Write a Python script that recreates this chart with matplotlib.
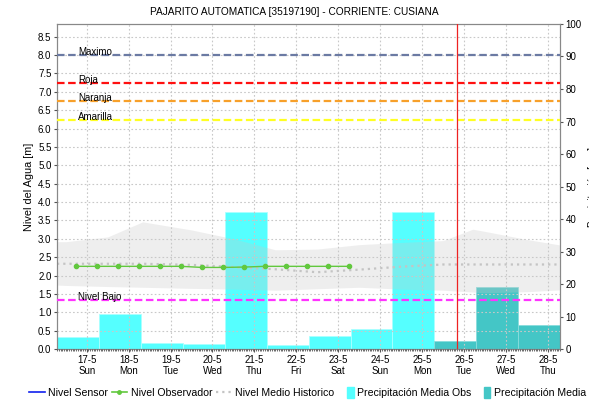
import matplotlib
matplotlib.use('Agg')
import matplotlib.pyplot as plt
import matplotlib.dates as mdates
from matplotlib.lines import Line2D
from matplotlib.patches import Patch, Rectangle
from matplotlib.legend_handler import HandlerPatch
import pandas as pd

plt.rcParams['font.family'] = ['Liberation Sans', 'DejaVu Sans']

titulo = 'PAJARITO AUTOMATICA [35197190] - CORRIENTE: CUSIANA'

# precipitacion diaria (mm), cada barra va de 07:00 a 07:00
dias_obs = pd.date_range('2020-05-16 07:00', '2020-05-24 07:00', freq='D')
precip_obs = [3.7, 10.7, 1.8, 1.5, 42.1, 1.2, 4.1, 6.2, 42.2]
dias_pron = pd.date_range('2020-05-25 07:00', '2020-05-27 07:00', freq='D')
precip_pron = [2.6, 19.1, 7.4]

# nivel observador, lecturas 06:00 y 18:00
horas_obs = pd.date_range('2020-05-16 18:00', '2020-05-23 06:00', freq='12h')
nivel_obs = [2.25, 2.25, 2.25, 2.25, 2.25, 2.25, 2.22, 2.22, 2.23,
             2.25, 2.25, 2.25, 2.25, 2.25]

# historico: media, maximo y minimo
horas_hist = pd.to_datetime(['2020-05-16 07:00', '2020-05-16 12:00', '2020-05-17 12:00',
                             '2020-05-18 08:00', '2020-05-19 12:00', '2020-05-20 12:00',
                             '2020-05-21 12:00', '2020-05-22 12:00', '2020-05-23 12:00',
                             '2020-05-24 12:00', '2020-05-25 12:00', '2020-05-26 05:00',
                             '2020-05-26 12:00', '2020-05-27 12:00', '2020-05-28 07:00'])
hist_medio = [2.32, 2.32, 2.32, 2.32, 2.29, 2.23, 2.17, 2.09, 2.16,
              2.24, 2.30, 2.30, 2.30, 2.30, 2.30]
hist_max = [2.92, 2.92, 3.05, 3.46, 3.24, 3.00, 2.70, 2.72, 2.84,
            2.90, 2.95, 3.26, 3.20, 2.98, 2.83]
hist_min = [1.74, 1.73, 1.70, 1.68, 1.65, 1.63, 1.60, 1.64, 1.68,
            1.63, 1.60, 1.55, 1.53, 1.56, 1.61]

# umbrales de nivel (m)
umbrales = ['Maximo', 'Roja', 'Naranja', 'Amarilla', 'Nivel Bajo']
umbral_val = [8.0, 7.25, 6.76, 6.23, 1.33]
umbral_color = ['#6b7aa3', '#ff1010', '#f7a02a', '#ffff22', '#ff33ff']

hora_actual = pd.Timestamp('2020-05-25 20:00')


def parche_estrecho(legend, orig_handle, xdescent, ydescent, width, height, fontsize):
    # cuadrito angosto al final del espacio del simbolo
    return Rectangle((width - 4.5 - xdescent, -ydescent - 1.5), 4.5, height + 3)


fig = plt.figure(figsize=(5.89, 4.04), dpi=100)
ax = fig.add_axes([0.0968, 0.1361, 0.8542, 0.8045])
ax2 = ax.twinx()
ax.set_zorder(ax2.get_zorder() + 1)
ax.patch.set_visible(False)

# barras de precipitacion en el eje derecho
ax2.bar(dias_obs, precip_obs, width=1.0, align='edge', color='#55ffff',
        edgecolor='#aaffff', linewidth=0.6)
ax2.bar(dias_pron, precip_pron, width=1.0, align='edge', color='#44c6c6',
        edgecolor='#88dddd', linewidth=0.6)
ax2.set_ylim(0, 100)
ax2.set_yticks(range(0, 101, 10))

# banda historica y lineas de nivel
ax.fill_between(horas_hist, hist_min, hist_max, color='#c8c8c8', alpha=0.3,
                linewidth=0, zorder=1)
ax.plot(horas_hist, hist_medio, color='#c4c4c4', linestyle=(0, (1, 1.8)),
        linewidth=1.6, zorder=2)
ax.plot(horas_obs, nivel_obs, color='#62c83e', linewidth=1.0, marker='o',
        markersize=3, zorder=4)

for nombre, val, col in zip(umbrales, umbral_val, umbral_color):
    ax.axhline(val, color=col, linewidth=1.6, dashes=(3.4, 1.6), zorder=3)
    ax.text(0.042, val, nombre, transform=ax.get_yaxis_transform(),
            fontsize=7, va='baseline', ha='left', zorder=5)

ax.axvline(hora_actual, color='#ee2222', linewidth=0.9, zorder=5)

ax.set_ylim(0, 8.844)
ax.set_yticks([i * 0.5 for i in range(18)])
ax.yaxis.set_major_formatter(plt.FormatStrFormatter('%.1f'))
ax.set_xlim(pd.Timestamp('2020-05-16 07:00'), pd.Timestamp('2020-05-28 07:00'))

dias = pd.date_range('2020-05-17', '2020-05-28', freq='D')
ax.set_xticks(dias)
ax.set_xticklabels([f'{d.day}-{d.month}\n{d.strftime("%a")}' for d in dias])
ax.xaxis.set_minor_locator(mdates.HourLocator(interval=1))

ax.grid(True, color='#c8c8c8', linestyle=(0, (1.5, 2)), linewidth=0.8)
ax.set_axisbelow(False)

ax.tick_params(axis='x', which='major', labelsize=7, length=2, pad=2, color='#555555')
ax.tick_params(axis='x', which='minor', length=1.5, width=0.6, color='#555555')
ax.tick_params(axis='y', labelsize=7, length=2, pad=2, color='#555555')
ax2.tick_params(axis='y', labelsize=7, length=2, pad=2, color='#555555')
for a in (ax, ax2):
    for s in a.spines.values():
        s.set_color('#888888')
        s.set_linewidth(0.8)

ax.set_ylabel('Nivel del Agua [m]', fontsize=7.8, labelpad=3)
fig.text(0.9975, 0.538, 'Precipitación [mm]', rotation=90, ha='left',
         va='center', fontsize=7)
fig.text(0.5, 0.97, titulo, ha='center', va='center', fontsize=7.3)

handles = [Line2D([], [], color='#1020ee', linewidth=1.2),
           Line2D([], [], color='#62c83e', linewidth=1.2, marker='o', markersize=2.5),
           Line2D([], [], color='#c4c4c4', linestyle=(0, (1, 1.8)), linewidth=1.6),
           Patch(color='#55ffff'),
           Patch(color='#44c6c6')]
etiquetas = ['Nivel Sensor', 'Nivel Observador', 'Nivel Medio Historico',
             'Precipitación Media Obs', 'Precipitación Media Pronosticada']
fig.legend(handles, etiquetas, loc='center left', bbox_to_anchor=(0.04, 0.027),
           ncol=5, frameon=False, fontsize=7.6, handlelength=1.5,
           handletextpad=0.3, columnspacing=0.35, borderpad=0,
           handler_map={Patch: HandlerPatch(patch_func=parche_estrecho)})

fig.savefig('out.png', dpi=100)
